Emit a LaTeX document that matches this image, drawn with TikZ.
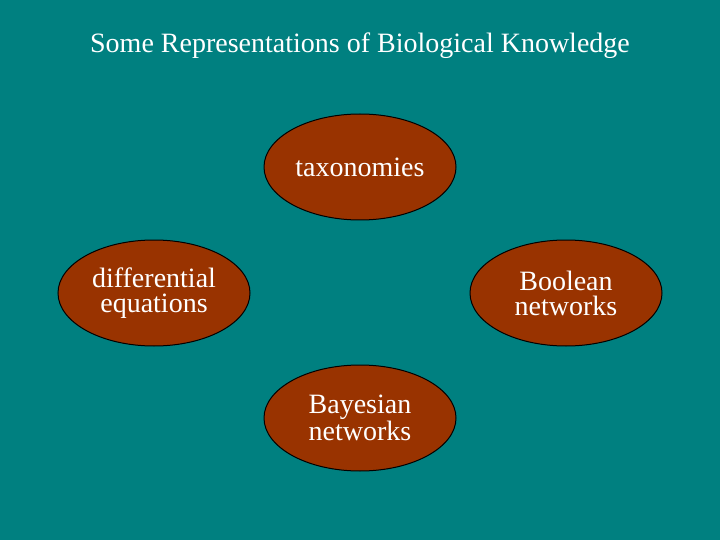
\documentclass[tikz,border=0pt]{standalone}
\usepackage{fontspec}
\newfontfamily\tms{Liberation Serif}
\usetikzlibrary{shapes.geometric}
\definecolor{bgteal}{HTML}{008080}
\definecolor{ovalbrown}{HTML}{993300}
\tikzset{
  oval/.style={ellipse, draw=black, line width=1pt, fill=ovalbrown, minimum width=192pt, minimum height=106pt, inner sep=0pt, text=white, align=center, font=\tms\fontsize{28}{25}\selectfont},
  titletext/.style={text=white, font=\tms\fontsize{28}{32}\selectfont}
}
\begin{document}
\begin{tikzpicture}[x=1pt,y=-1pt]
\fill[bgteal] (0,0) rectangle (720,540);
\useasboundingbox (0,0) rectangle (720,540);
\node[titletext] (title) at (360,46) {Some Representations of Biological Knowledge};
\node[oval] (tax) at (360,167) {taxonomies};
\node[oval] (diff) at (154,293) {differential\\equations};
\node[oval] (bool) at (566,293) {Boolean\\networks};
\node[oval] (bayes) at (360,418) {Bayesian\\networks};
\end{tikzpicture}
\end{document}
